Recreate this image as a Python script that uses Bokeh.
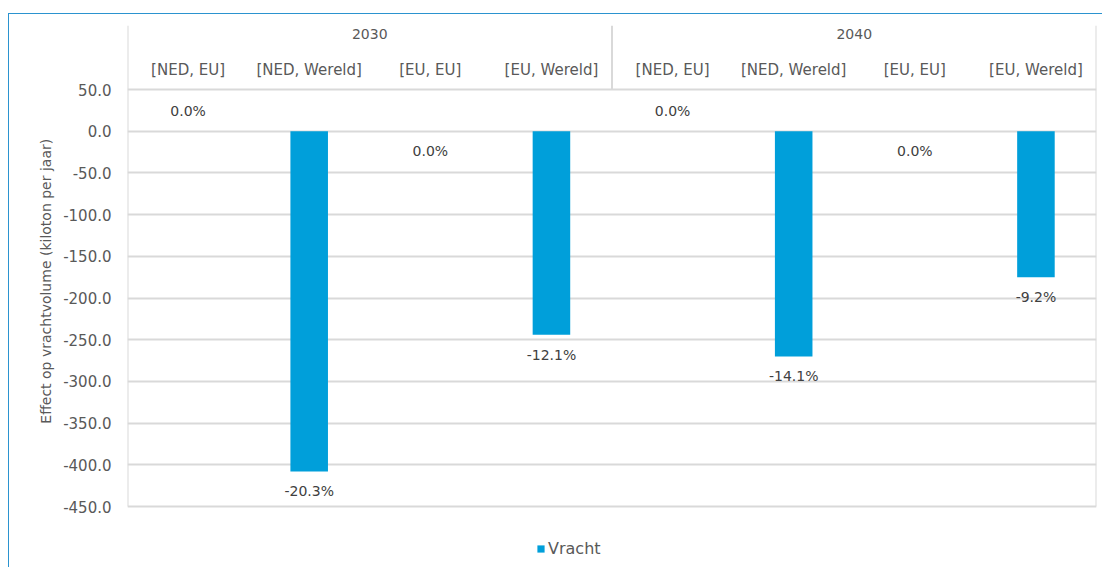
from bokeh.plotting import figure
from bokeh.models import (FactorRange, Range1d, FixedTicker, ColumnDataSource,
                          Legend, LegendItem, NumeralTickFormatter)
from bokeh.core.properties import value
from bokeh.embed import file_html
from bokeh.resources import INLINE

# ---- data ----
years = ["2030", "2040"]
routes = ["[NED, EU]", "[NED, Wereld]", "[EU, EU]", "[EU, Wereld]"]
vracht = [0.0, -408.0, 0.0, -244.0, 0.0, -270.0, 0.0, -175.0]
pct = [0.0, -20.3, 0.0, -12.1, 0.0, -14.1, 0.0, -9.2]
label_above = [True, False, False, False, True, False, False, False]
y_ticks = [-450, -400, -350, -300, -250, -200, -150, -100, -50, 0, 50]
y_title = "Effect op vrachtvolume (kiloton per jaar)"
series_name = "Vracht"

# ---- layout (pixels) ----
FONT = "DejaVu Sans"
TXT = "#404040"
LAB = "#595959"
GRID = "#d9d9d9"
BLUE = "#009FDA"
CANVAS_X, CANVAS_Y = 9, 14
W, H = 1094, 554
F_LEFT, F_RIGHT, F_TOP, F_BOTTOM = 127, 1096, 25, 566
PX_TOP_TICK, PX_BOT_TICK = 89, 506          # screen y of 50 and -450
k = (PX_BOT_TICK - PX_TOP_TICK) / (y_ticks[-1] - y_ticks[0])

def y_at(px):
    return y_ticks[-1] + (PX_TOP_TICK - px) / k

factors = [(y, r) for y in years for r in routes]
x_range = FactorRange(factors=factors, group_padding=0, factor_padding=0, range_padding=0)
y_range = Range1d(y_at(F_BOTTOM), y_at(F_TOP))

p = figure(width=W, height=H, x_range=x_range, y_range=y_range,
           output_backend="svg", toolbar_location=None,
           min_border_left=F_LEFT - CANVAS_X,
           min_border_right=CANVAS_X + W - F_RIGHT,
           min_border_top=F_TOP - CANVAS_Y,
           min_border_bottom=CANVAS_Y + H - F_BOTTOM)
p.styles = {"border-top": "1px solid #2B93CF", "border-left": "1px solid #2B93CF",
            "margin-top": "13px", "margin-left": "8px"}
p.outline_line_color = None
p.background_fill_color = "white"
p.border_fill_color = "white"

p.xaxis.visible = False
p.xgrid.visible = False
p.ygrid.grid_line_color = GRID
p.ygrid.grid_line_width = 2
p.yaxis.ticker = FixedTicker(ticks=y_ticks)
p.yaxis.formatter = NumeralTickFormatter(format="0.0")
p.yaxis.axis_line_color = None
p.yaxis.major_tick_line_color = None
p.yaxis.minor_tick_line_color = None
p.yaxis.major_label_text_font = FONT
p.yaxis.major_label_text_font_size = "15px"
p.yaxis.major_label_text_color = LAB
p.yaxis.major_label_standoff = 10
# leading no-break spaces lift the centred title to sit mid-way along the plot area
p.yaxis.axis_label = "\u00a0" * 6 + "\u2009" + y_title
p.yaxis.axis_label_text_font = FONT
p.yaxis.axis_label_text_font_size = "14px"
p.yaxis.axis_label_text_font_style = "normal"
p.yaxis.axis_label_text_color = LAB
p.yaxis.axis_label_standoff = 6

src = ColumnDataSource(dict(x=factors, top=vracht))
bars = p.vbar(x="x", top="top", bottom=0, width=0.31, source=src,
              fill_color=BLUE, line_color=None)

# data labels
lab_above = [(f, v, f"{q:.1f}%") for f, v, q, a in zip(factors, vracht, pct, label_above) if a]
lab_below = [(f, v, f"{q:.1f}%") for f, v, q, a in zip(factors, vracht, pct, label_above) if not a]
p.text(x=[a[0] for a in lab_above], y=[a[1] for a in lab_above], text=[a[2] for a in lab_above],
       text_align="center", text_baseline="bottom", y_offset=-12,
       text_font=value(FONT), text_font_size="14px", text_color=TXT)
p.text(x=[a[0] for a in lab_below], y=[a[1] for a in lab_below], text=[a[2] for a in lab_below],
       text_align="center", text_baseline="top", y_offset=12,
       text_font=value(FONT), text_font_size="14px", text_color=TXT)

# header (category labels)
p.text(x=factors, y=[y_at(69)] * len(factors), text=[f[1] for f in factors],
       text_align="center", text_baseline="middle",
       text_font=value(FONT), text_font_size="15px", text_color=LAB)
p.text(x=years, y=[y_at(33)] * len(years), text=years,
       text_align="center", text_baseline="middle",
       text_font=value(FONT), text_font_size="14px", text_color=LAB)

# frame lines: left axis line, header separator, right border
x_left = (years[0], routes[0], -0.5)
x_mid = (years[1], routes[0], -0.5)
x_right = (years[1], routes[-1], 0.5)
sep_src = ColumnDataSource(dict(
    x0=[x_left, x_mid, x_right],
    y0=[y_ticks[0], y_ticks[-1], y_ticks[0]],
    x1=[x_left, x_mid, x_right],
    y1=[y_at(F_TOP)] * 3))
p.segment(x0="x0", y0="y0", x1="x1", y1="y1", source=sep_src,
          line_color=GRID, line_width=2)

legend = Legend(items=[LegendItem(label=series_name, renderers=[bars])],
                location=(409, 8), orientation="horizontal",
                glyph_width=9, glyph_height=9, label_standoff=3,
                label_text_font=FONT, label_text_font_size="16px",
                label_text_color=LAB, border_line_color=None,
                background_fill_alpha=0, padding=2, margin=0)
p.add_layout(legend, "center")

open("out.html", "w").write(file_html(p, INLINE))
